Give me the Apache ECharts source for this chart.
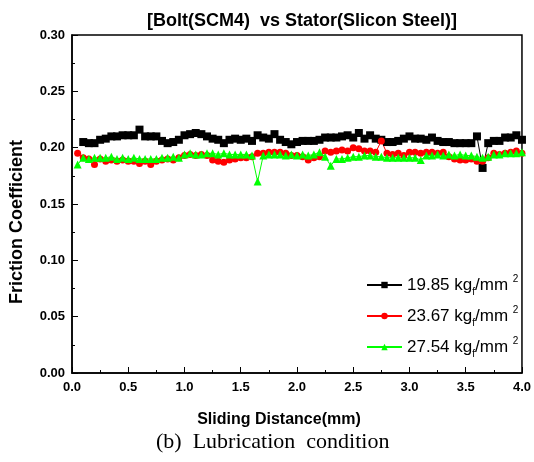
<!DOCTYPE html>
<html>
<head>
<meta charset="utf-8">
<script src="https://cdn.jsdelivr.net/npm/echarts@6/dist/echarts.min.js"></script>
<style>
  html, body { margin: 0; padding: 0; background: #fff; }
  #chart { width: 534px; height: 462px; }
</style>
</head>
<body>
<div id="chart"></div>
<script>
  // sliding distance (mm), one reading every 0.05 mm
  var distance = [0.05,0.1,0.15,0.2,0.25,0.3,0.35,0.4,0.45,0.5,0.55,0.6,0.65,0.7,0.75,0.8,0.85,0.9,0.95,1.0,
    1.05,1.1,1.15,1.2,1.25,1.3,1.35,1.4,1.45,1.5,1.55,1.6,1.65,1.7,1.75,1.8,1.85,1.9,1.95,2.0,
    2.05,2.1,2.15,2.2,2.25,2.3,2.35,2.4,2.45,2.5,2.55,2.6,2.65,2.7,2.75,2.8,2.85,2.9,2.95,3.0,
    3.05,3.1,3.15,3.2,3.25,3.3,3.35,3.4,3.45,3.5,3.55,3.6,3.65,3.7,3.75,3.8,3.85,3.9,3.95,4.0]

  var load1985 = [null,0.205,0.204,0.204,0.207,0.208,0.210,0.210,0.211,0.211,0.211,0.216,0.210,0.210,0.210,0.206,0.204,0.205,0.207,0.211,
    0.212,0.213,0.212,0.210,0.208,0.207,0.204,0.207,0.208,0.207,0.208,0.206,0.211,0.209,0.208,0.212,0.207,0.205,0.203,0.205,
    0.206,0.206,0.206,0.207,0.209,0.209,0.209,0.210,0.211,0.209,0.213,0.208,0.211,0.208,0.207,0.205,0.205,0.206,0.208,0.210,
    0.208,0.208,0.207,0.209,0.206,0.205,0.205,0.204,0.204,0.204,0.204,0.210,0.182,0.204,0.206,0.206,0.209,0.209,0.211,0.207]

  var load2367 = [0.195,0.191,0.190,0.185,0.190,0.188,0.189,0.188,0.189,0.188,0.188,0.186,0.188,0.185,0.188,0.189,0.190,0.189,0.191,0.193,
    0.194,0.193,0.194,0.193,0.189,0.188,0.187,0.189,0.190,0.191,0.191,0.192,0.195,0.195,0.196,0.196,0.196,0.195,0.193,0.193,
    0.192,0.189,0.191,0.192,0.197,0.196,0.197,0.198,0.197,0.200,0.199,0.197,0.197,0.196,0.206,0.195,0.194,0.195,0.193,0.196,
    0.196,0.195,0.196,0.196,0.195,0.196,0.192,0.190,0.189,0.189,0.190,0.188,0.188,0.191,0.195,0.194,0.195,0.196,0.197,0.195]

  var load2754 = [0.185,0.191,0.190,0.191,0.191,0.191,0.192,0.190,0.191,0.190,0.191,0.190,0.190,0.190,0.190,0.191,0.191,0.192,0.191,0.194,
    0.195,0.194,0.194,0.195,0.195,0.194,0.195,0.194,0.194,0.194,0.194,0.193,0.170,0.193,0.194,0.194,0.194,0.193,0.194,0.193,
    0.194,0.193,0.194,0.196,0.192,0.184,0.190,0.190,0.191,0.192,0.192,0.193,0.193,0.192,0.192,0.191,0.191,0.191,0.191,0.191,
    0.191,0.189,0.193,0.193,0.194,0.193,0.194,0.193,0.194,0.193,0.193,0.192,0.191,0.192,0.194,0.194,0.195,0.195,0.195,0.196]

  var loadNames = ['19.85', '23.67', '27.54']

  function pairs(values) {
    return distance.map(function (d, i) { return [d, values[i]] })
  }

  function makeSeries(name, values, color, symbol, size) {
    return {
      name: name,
      type: 'line',
      data: pairs(values),
      symbol: symbol,
      symbolSize: size,
      showAllSymbol: true,
      connectNulls: false,
      lineStyle: { color: color, width: 1 },
      itemStyle: { color: color },
      emphasis: { disabled: true },
      animation: false
    }
  }

  var chart = echarts.init(document.getElementById('chart'))

  var axisFont = { color: '#000', fontWeight: 'bold', fontSize: 13, fontFamily: 'Liberation Sans, Arial' }

  var options = {
    animation: false,
    title: [
      {
        text: '[Bolt(SCM4)  vs Stator(Slicon Steel)]',
        left: 142,
        top: 7,
        textStyle: { color: '#000', fontSize: 18, fontWeight: 'bold', fontFamily: 'Liberation Sans, Arial' }
      },
      {
        text: '(b)  Lubrication  condition',
        left: 151,
        top: 426,
        textStyle: { color: '#000', fontSize: 22, fontWeight: 'normal', fontFamily: 'Liberation Serif, Times New Roman' }
      }
    ],
    grid: {
      left: 69,
      right: 7,
      top: 35,
      bottom: 89,
      show: true,
      borderColor: '#000',
      borderWidth: 1.5
    },
    legend: {
      orient: 'vertical',
      left: 361,
      top: 269,
      itemGap: 8,
      itemWidth: 35,
      itemHeight: 8,
      data: loadNames.map(function (n) { return n }),
      formatter: function (name) {
        return name + ' kg{sub|f}/mm {sup|2}'
      },
      textStyle: {
        color: '#000',
        fontSize: 17,
        fontFamily: 'Liberation Sans, Arial',
        rich: {
          sub: { fontSize: 10, color: '#000', padding: [14, 0, 0, 0] },
          sup: { fontSize: 10, color: '#000', padding: [0, 0, 12, 0] }
        }
      }
    },
    xAxis: {
      type: 'value',
      min: 0,
      max: 4,
      interval: 0.5,
      name: 'Sliding Distance(mm)',
      nameLocation: 'middle',
      nameGap: 39,
      nameTextStyle: { color: '#000', fontWeight: 'bold', fontSize: 16, fontFamily: 'Liberation Sans, Arial', padding: [0, 36, 0, 0] },
      axisLine: { show: true, lineStyle: { color: '#000', width: 1.5 } },
      axisTick: { show: true, inside: true, length: 6, lineStyle: { color: '#000' } },
      minorTick: { show: true, splitNumber: 2, length: 3, lineStyle: { color: '#000' } },
      splitLine: { show: false },
      axisLabel: Object.assign({ margin: 8, formatter: function (v) { return v.toFixed(1) } }, axisFont)
    },
    yAxis: {
      type: 'value',
      min: 0,
      max: 0.3,
      interval: 0.05,
      name: 'Friction Coefficient',
      nameLocation: 'middle',
      nameGap: 46,
      nameTextStyle: { color: '#000', fontWeight: 'bold', fontSize: 18, fontFamily: 'Liberation Sans, Arial', padding: [0, 36, 0, 0] },
      axisLine: { show: true, lineStyle: { color: '#000', width: 1.5 } },
      axisTick: { show: true, inside: true, length: 6, lineStyle: { color: '#000' } },
      minorTick: { show: true, splitNumber: 2, length: 3, lineStyle: { color: '#000' } },
      splitLine: { show: false },
      axisLabel: Object.assign({ margin: 7, formatter: function (v) { return v.toFixed(2) } }, axisFont)
    },
    series: [
      makeSeries(loadNames[0], load1985, '#000000', 'rect', 8),
      makeSeries(loadNames[1], load2367, '#ff0000', 'circle', 7),
      makeSeries(loadNames[2], load2754, '#00ff00', 'triangle', 8)
    ]
  }

  chart.setOption(options)
</script>
</body>
</html>
